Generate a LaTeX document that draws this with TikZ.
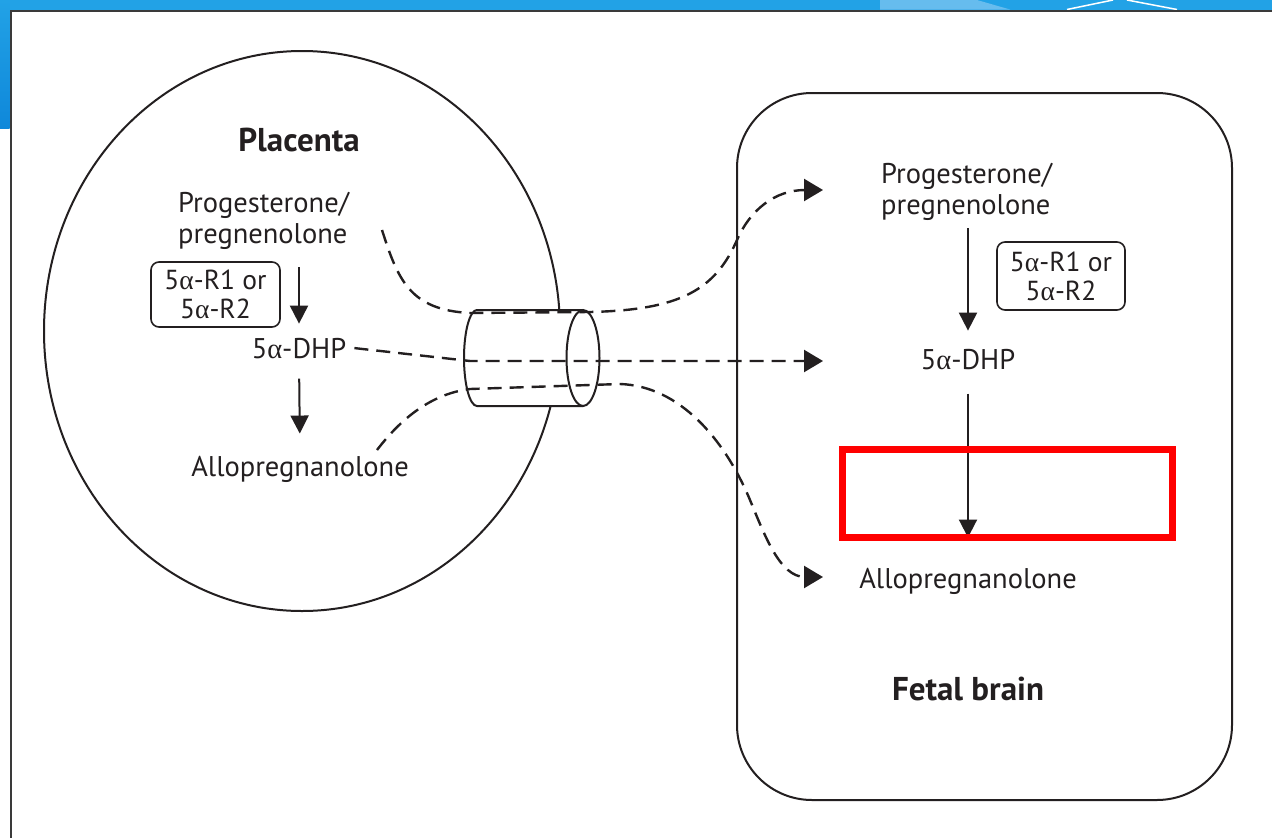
\documentclass[tikz,border=0pt]{standalone}
\usepackage{fontspec}
\setmainfont{PT Sans}
\newfontfamily\grkfont{Liberation Serif}
\usetikzlibrary{arrows.meta}
\newcommand{\alp}{{\grkfont α}}
\definecolor{ink}{HTML}{231F20}
\definecolor{band}{HTML}{22A2E6}
\definecolor{banddark}{HTML}{0F88DA}
\definecolor{bandlight}{HTML}{66BCEE}
\definecolor{framegray}{HTML}{3A3A3A}
\begin{document}
\begin{tikzpicture}[x=1pt,y=-1pt,
  txt/.style={inner sep=0pt, text=ink, font=\fontsize{28.5}{31}\selectfont},
  ttl/.style={inner sep=0pt, text=ink, font=\fontsize{33}{36}\selectfont\bfseries},
  enzbox/.style={draw=ink, line width=1.6pt, rounded corners=8pt, inner sep=0pt, align=center, text=ink, font=\fontsize{27.5}{29}\selectfont},
  outline/.style={draw=ink, line width=2pt},
  arr/.style={draw=ink, line width=2pt, -{Triangle[length=18pt,width=18pt]}},
  flow/.style={draw=ink, line width=2.4pt, dash pattern=on 14pt off 8pt},
  flowarr/.style={flow, -{Triangle[length=19pt,width=22pt]}},
]
\useasboundingbox (0,0) rectangle (1272,838);
\fill[white] (0,0) rectangle (1272,838);
% slide decoration
\fill[band] (0,0) rectangle (1272,9.5);
\shade[top color=band, bottom color=banddark] (0,0) rectangle (9.5,128);
\fill[bandlight] (880,0) -- (977,0) -- (1010,9.5) -- (880,9.5) -- cycle;
\draw[white, line width=1.5pt] (1067,9.5) -- (1113,0);
\draw[white, line width=1.5pt] (1127,0) -- (1177,9.5);
\draw[framegray, line width=2.6pt] (10.8,838) -- (10.8,10.8) -- (1272,10.8);

% compartments
\draw[outline] (302,331) ellipse [x radius=258pt, y radius=280pt];
\draw[outline, rounded corners=75pt] (737,93) rectangle (1232,800);

% placenta texts
\node[ttl] (plac) at (299,140) {Placenta};
\node[txt, align=left, anchor=base west] (prog1) at (178,243) {Progesterone/\\pregnenolone};
\node[enzbox, minimum width=129pt, minimum height=65pt] (enz1) at (215.5,294.5) {5\alp-R1 or\\5\alp-R2};
\node[txt, anchor=base] (dhp1) at (299,358) {5\alp-DHP};
\node[txt, anchor=base] (allo1) at (300,476) {Allopregnanolone};

% fetal brain texts
\node[txt, align=left, anchor=base west] (prog2) at (881,214) {Progesterone/\\pregnenolone};
\node[enzbox, minimum width=128pt, minimum height=68pt] (enz2) at (1061,276) {5\alp-R1 or\\5\alp-R2};
\node[txt, anchor=base] (dhp2) at (968,369) {5\alp-DHP};
\node[txt, anchor=base] (allo2) at (968,588) {Allopregnanolone};
\node[ttl] (fetal) at (968,689) {Fetal brain};

% solid arrows
\draw[arr, shorten <=18pt, shorten >=14pt] (dhp1.north |- prog1.south) -- (dhp1.north);
\draw[arr, shorten <=20pt, shorten >=22pt] (dhp1.south) -- (allo1.north);
\draw[arr, shorten <=8pt, shorten >=18pt] (dhp2.north |- prog2.south) -- (dhp2.north);
\draw[arr, shorten <=24pt, shorten >=30pt] (dhp2.south) -- (allo2.north);

% coordinates for the transport paths
\coordinate (s1) at (382,230);
\coordinate (s2) at ([xshift=8pt]dhp1.east);
\coordinate (s3) at (377,450);
\coordinate (e1) at (823,190);
\coordinate (e2) at (823,361);
\coordinate (e3) at (823,577);

% cylinder (channel) body
\fill[white] (583,310) -- (477,310) arc[start angle=90, end angle=270, x radius=13pt, y radius=48pt] -- (583,406) -- cycle;
\fill[white] (583,358) ellipse [x radius=16.5pt, y radius=48pt];

% dashed transport paths
\draw[flowarr] (s1) .. controls (398,280) and (410,310) .. (470,313) -- (590,312)
   .. controls (680,310) and (715,290) .. (737,240)
   .. controls (750,210) and (775,190) .. (805,190) -- (e1);
\draw[flowarr] (s2) -- (470,361) -- (e2);
\draw[flowarr] (s3) .. controls (400,420) and (430,394) .. (470,389) -- (620,384)
   .. controls (680,386) and (725,440) .. (750,500)
   .. controls (765,536) and (780,577) .. (805,577) -- (e3);

% cylinder outlines
\draw[outline] (583,310) -- (477,310) arc[start angle=90, end angle=270, x radius=13pt, y radius=48pt] -- (583,406);
\draw[outline] (583,358) ellipse [x radius=16.5pt, y radius=48pt];

% highlight
\node[draw=red, line width=7pt, minimum width=330pt, minimum height=88pt, inner sep=0pt] (hl) at (1007.5,493.5) {};
\end{tikzpicture}
\end{document}
